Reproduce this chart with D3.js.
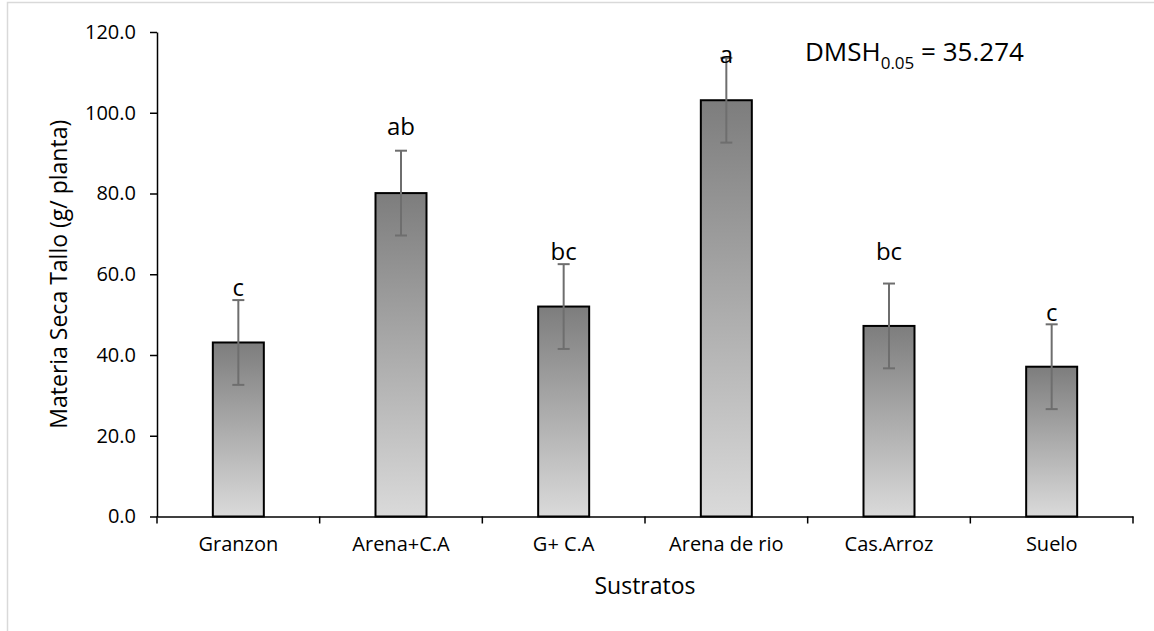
<!DOCTYPE html>
<meta charset="utf-8">
<script src="https://cdn.jsdelivr.net/npm/d3@7"></script>
<style>
  body { margin: 0; background: #fff; }
  text { font-family: "Open Sans", sans-serif; fill: #000; }
</style>
<div id="vis"></div>
<script>
// valores
const categories = ["Granzon", "Arena+C.A", "G+ C.A", "Arena de rio", "Cas.Arroz", "Suelo"]
const means = [43.1, 80.1, 52.0, 103.1, 47.2, 37.1]
const errors = [10.5, 10.5, 10.5, 10.5, 10.5, 10.5]
const letters = ["c", "ab", "bc", "a", "bc", "c"]
const letterAt = [54.7, 94.6, 63.6, 112.4, 63.6, 48.5]
const yTicks = [0, 20, 40, 60, 80, 100, 120]

function drawvis() {
  const W = 1154, H = 631
  const margin = {top: 32, right: 21, bottom: 114.5, left: 157}
  const width = W - margin.left - margin.right
  const height = H - margin.top - margin.bottom

  const data = categories.map((c, i) => ({cat: c, mean: means[i], err: errors[i], letter: letters[i], at: letterAt[i]}))

  const x = d3.scaleBand()
    .domain(categories)
    .range([0, width])
    .paddingInner(0.6865)
    .paddingOuter(0.6865 / 2)
  const y = d3.scaleLinear()
    .domain([0, 120])
    .range([height, 0])

  const svg = d3.select("#vis").append("svg")
    .attr("width", W)
    .attr("height", H)

  // borde del area del grafico
  svg.append("rect")
    .attr("x", 7.5).attr("y", 2.5)
    .attr("width", 1160).attr("height", 640)
    .attr("fill", "none").attr("stroke", "#d9d9d9").attr("stroke-width", 1.5)

  const grad = svg.append("defs").append("linearGradient")
    .attr("id", "barGrad")
    .attr("x1", 0).attr("y1", 0).attr("x2", 0).attr("y2", 1)
  grad.append("stop").attr("offset", "0%").attr("stop-color", "#7d7d7d")
  grad.append("stop").attr("offset", "100%").attr("stop-color", "#dadada")

  const g = svg.append("g").attr("transform", `translate(${margin.left},${margin.top})`)

  // barras
  g.selectAll("rect.bar")
    .data(data)
    .enter().append("rect")
    .attr("class", "bar")
    .attr("x", d => x(d.cat))
    .attr("y", d => y(d.mean))
    .attr("width", x.bandwidth())
    .attr("height", d => height - y(d.mean))
    .attr("fill", "url(#barGrad)")
    .attr("stroke", "#000")
    .attr("stroke-width", 2)

  // barras de error
  const eb = g.selectAll("g.err")
    .data(data)
    .enter().append("g")
    .attr("class", "err")
    .attr("stroke", "#6e6e6e")
    .attr("stroke-width", 2)
  const cx = d => x(d.cat) + x.bandwidth() / 2
  eb.append("line")
    .attr("x1", cx).attr("x2", cx)
    .attr("y1", d => y(d.mean + d.err)).attr("y2", d => y(d.mean - d.err))
  eb.append("line")
    .attr("x1", d => cx(d) - 6).attr("x2", d => cx(d) + 6)
    .attr("y1", d => y(d.mean + d.err)).attr("y2", d => y(d.mean + d.err))
  eb.append("line")
    .attr("x1", d => cx(d) - 6).attr("x2", d => cx(d) + 6)
    .attr("y1", d => y(d.mean - d.err)).attr("y2", d => y(d.mean - d.err))

  // letras de significancia
  g.selectAll("text.letter")
    .data(data)
    .enter().append("text")
    .attr("class", "letter")
    .attr("x", cx)
    .attr("y", d => y(d.at))
    .attr("text-anchor", "middle")
    .style("font-size", "24px")
    .text(d => d.letter)

  // eje Y
  const yAxis = g.append("g")
    .call(d3.axisLeft(y).tickValues(yTicks).tickFormat(d3.format(".1f"))
      .tickSizeInner(7).tickSizeOuter(0).tickPadding(14))
  yAxis.selectAll("path, line").attr("stroke", "#000").attr("stroke-width", 1.5)
  yAxis.selectAll("text").style("font-size", "20px").style("font-family", "Open Sans")

  // eje X
  const xAxis = g.append("g")
    .attr("transform", `translate(0,${height})`)
    .call(d3.axisBottom(x).tickSize(0).tickPadding(20))
  xAxis.select("path").attr("stroke", "#000").attr("stroke-width", 1.5)
  xAxis.selectAll("text").style("font-size", "20px").style("font-family", "Open Sans")
  const bounds = categories.map(c => x(c) + x.bandwidth() / 2 - x.step() / 2).concat([width])
  xAxis.selectAll("line.bound")
    .data(bounds)
    .enter().append("line")
    .attr("class", "bound")
    .attr("x1", d => d).attr("x2", d => d)
    .attr("y1", 0).attr("y2", 7)
    .attr("stroke", "#000").attr("stroke-width", 1.5)

  // titulos
  svg.append("text")
    .attr("transform", `translate(67,${margin.top + height / 2}) rotate(-90)`)
    .attr("text-anchor", "middle")
    .style("font-size", "23px")
    .text("Materia Seca Tallo (g/ planta)")
  svg.append("text")
    .attr("x", margin.left + width / 2)
    .attr("y", 594)
    .attr("text-anchor", "middle")
    .style("font-size", "23px")
    .text("Sustratos")

  const dm = svg.append("text")
    .attr("x", 805)
    .attr("y", 61)
    .style("font-size", "26px")
  dm.append("tspan").text("DMSH")
  dm.append("tspan").attr("dy", 8).style("font-size", "17px").text("0.05")
  dm.append("tspan").attr("dy", -8).text(" = 35.274")
}
drawvis()
</script>
